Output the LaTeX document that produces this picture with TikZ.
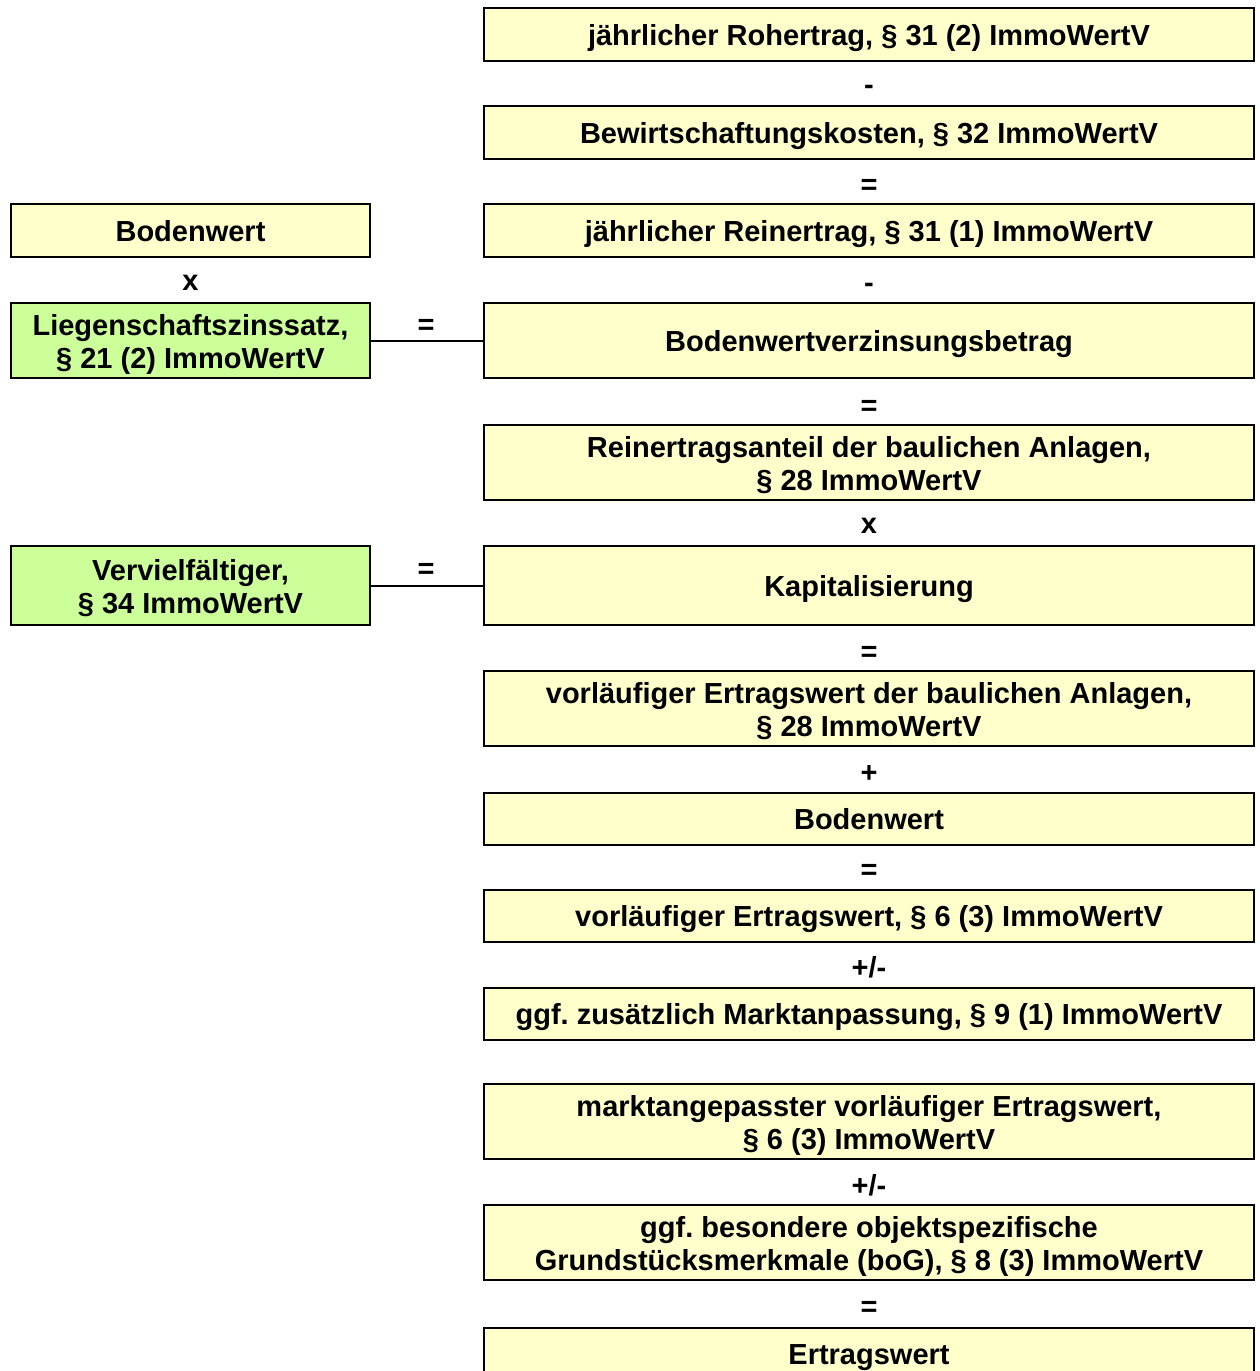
\documentclass[tikz,border=0pt]{standalone}
\usepackage{fontspec}
\setmainfont{Liberation Sans}
\frenchspacing
\definecolor{boxyellow}{HTML}{FFFFCC}
\definecolor{boxgreen}{HTML}{CCFF99}
\newcommand\boxstrut{\rule[-9pt]{0pt}{39pt}}
\begin{document}
\begin{tikzpicture}[x=1pt,y=-1pt,
  box/.style={draw=black,line width=2pt,inner sep=0pt,align=center,
    font=\fontsize{29}{33}\selectfont\bfseries},
  oneline/.style={execute at begin node=\boxstrut, execute at end node=\boxstrut},
  twoline/.style={text height=61pt,text depth=5pt},
  ybox/.style={box,fill=boxyellow},
  gbox/.style={box,fill=boxgreen},
  rbox/.style={ybox,minimum width=770pt},
  lbox/.style={minimum width=359pt},
  op/.style={anchor=base,inner sep=0pt,font=\fontsize{29}{33}\selectfont\bfseries},
  conn/.style={line width=2pt}]
\useasboundingbox (0,0) rectangle (1259,1371);
% right column
\node[rbox,oneline,minimum height=53pt] (roh) at (869,34.5) {jährlicher Rohertrag, § 31 (2) ImmoWertV};
\node[rbox,oneline,minimum height=53pt] (bew) at (869,132.5) {Bewirtschaftungskosten, § 32 ImmoWertV};
\node[rbox,oneline,minimum height=53pt] (rein) at (869,230.5) {jährlicher Reinertrag, § 31 (1) ImmoWertV};
\node[rbox,oneline,minimum height=75pt] (bvz) at (869,340.5) {Bodenwertverzinsungsbetrag};
\node[rbox,twoline,minimum height=75pt] (anteil) at (869,462.5) {Reinertragsanteil der baulichen Anlagen,\\§ 28 ImmoWertV};
\node[rbox,oneline,minimum height=79pt] (kap) at (869,585.5) {Kapitalisierung};
\node[rbox,twoline,minimum height=75pt] (vebA) at (869,708.5) {vorläufiger Ertragswert der baulichen Anlagen,\\§ 28 ImmoWertV};
\node[rbox,oneline,minimum height=52pt] (bw2) at (869,819) {Bodenwert};
\node[rbox,oneline,minimum height=52pt] (vew) at (869,916) {vorläufiger Ertragswert, § 6 (3) ImmoWertV};
\node[rbox,oneline,minimum height=52pt] (markt) at (869,1014) {ggf. zusätzlich Marktanpassung, § 9 (1) ImmoWertV};
\node[rbox,twoline,minimum height=75pt] (mvew) at (869,1121.5) {marktangepasster vorläufiger Ertragswert,\\§ 6 (3) ImmoWertV};
\node[rbox,twoline,minimum height=75pt] (bog) at (869,1242.5) {ggf. besondere objektspezifische\\Grundstücksmerkmale (boG), § 8 (3) ImmoWertV};
\node[rbox,oneline,minimum height=52pt] (ew) at (869,1354) {Ertragswert};
% left column
\node[ybox,lbox,oneline,minimum height=53pt] (bw1) at (190.5,230.5) {Bodenwert};
\node[gbox,lbox,twoline,minimum height=75pt] (lzs) at (190.5,340.5) {Liegenschaftszinssatz,\\§ 21 (2) ImmoWertV};
\node[gbox,lbox,twoline,minimum height=79pt] (vv) at (190.5,585.5) {Vervielfältiger,\\§ 34 ImmoWertV};
% operators
\node[op] (o1) at (869,94) {-};
\node[op] (o2) at (869,194) {=};
\node[op] (o3) at (869,292) {-};
\node[op] (o4) at (190.5,290) {x};
\node[op] (o5) at (869,415) {=};
\node[op] (o6) at (869,533) {x};
\node[op] (o7) at (869,661) {=};
\node[op] (o8) at (869,782) {+};
\node[op] (o9) at (869,879) {=};
\node[op] (o10) at (869,977) {+/-};
\node[op] (o11) at (869,1195) {+/-};
\node[op] (o12) at (869,1316) {=};
\node[op] (o13) at (426,334) {=};
\node[op] (o14) at (426,578) {=};
% connectors
\draw[conn] (lzs.east) -- (bvz.west);
\draw[conn] (vv.east) -- (kap.west);
\end{tikzpicture}
\end{document}
